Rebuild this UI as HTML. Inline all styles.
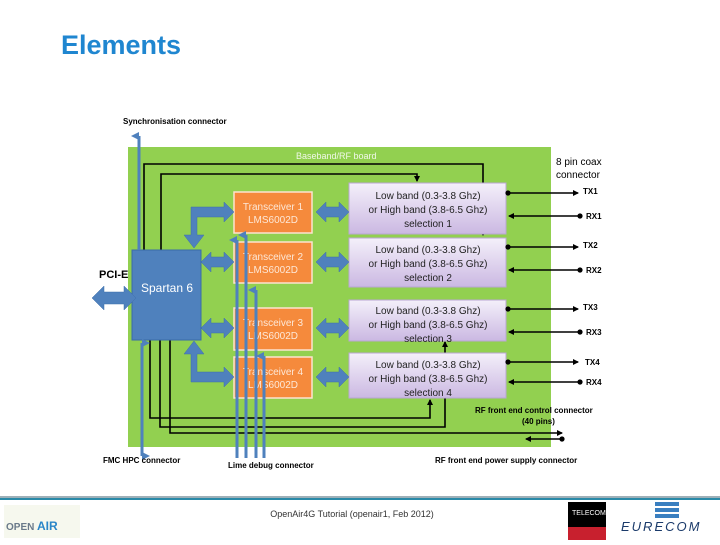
<!DOCTYPE html>
<html><head><meta charset="utf-8"><style>
body{margin:0;width:720px;height:540px;background:#fff;overflow:hidden;font-family:"Liberation Sans",sans-serif}
</style></head><body>
<svg width="720" height="540" viewBox="0 0 720 540" xmlns="http://www.w3.org/2000/svg" font-family="Liberation Sans, sans-serif">
<defs>
<linearGradient id="pg" x1="0" y1="0" x2="0" y2="1"><stop offset="0" stop-color="#f4f0fa"/><stop offset="1" stop-color="#cbb8e2"/></linearGradient>
<marker id="ah" markerWidth="6" markerHeight="6" refX="5" refY="3" orient="auto" markerUnits="userSpaceOnUse"><path d="M0,0 L6,3 L0,6 Z" fill="#000"/></marker>
<marker id="dt" markerWidth="6" markerHeight="6" refX="3" refY="3" markerUnits="userSpaceOnUse"><circle cx="3" cy="3" r="2.6" fill="#000"/></marker>
<marker id="bh" markerWidth="8" markerHeight="8" refX="4" refY="8" orient="auto" markerUnits="userSpaceOnUse"><path d="M0,8 L4,0 L8,8 Z" fill="#4f81bd"/></marker>
</defs>
<text x="61" y="54" font-size="27" font-weight="bold" fill="#1f86d0">Elements</text>

<rect x="128" y="147" width="423" height="300" fill="#92d050"/>
<text x="296" y="159" font-size="9" fill="#f0f8e8">Baseband/RF  board</text>

<g fill="none" stroke="#000" stroke-width="1.6">
<path d="M144 250 V164 H483 V235" marker-end="url(#ah)"/>
<path d="M161 250 V174 H417 V181" marker-end="url(#ah)"/>
<path d="M150 340 V418 H430 V400" marker-end="url(#ah)"/>
<path d="M160 340 V427 H445 V342" marker-end="url(#ah)"/>
<path d="M170 340 V433 H562" marker-end="url(#ah)"/>
<path d="M562 439 H526" marker-start="url(#dt)" marker-end="url(#ah)"/>
</g>

<g fill="#f58a3c" stroke="#fde3cf" stroke-width="1.5">
<rect x="234" y="192" width="78" height="41"/>
<rect x="234" y="242" width="78" height="41"/>
<rect x="234" y="308" width="78" height="42"/>
<rect x="234" y="357" width="78" height="41"/>
</g>
<g font-size="10" fill="#fde8d8" text-anchor="middle">
<text x="273" y="210">Transceiver 1</text><text x="273" y="223">LMS6002D</text>
<text x="273" y="260">Transceiver 2</text><text x="273" y="273">LMS6002D</text>
<text x="273" y="326">Transceiver 3</text><text x="273" y="339">LMS6002D</text>
<text x="273" y="375">Transceiver 4</text><text x="273" y="388">LMS6002D</text>
</g>

<g fill="url(#pg)" stroke="#b9a6d3" stroke-width="1">
<rect x="349" y="183" width="157" height="51"/>
<rect x="349" y="238" width="157" height="49"/>
<rect x="349" y="300" width="157" height="41"/>
<rect x="349" y="353" width="157" height="45"/>
</g>
<g font-size="10" fill="#222" text-anchor="middle">
<text x="428" y="199">Low band (0.3-3.8 Ghz)</text><text x="428" y="213">or High band (3.8-6.5 Ghz)</text><text x="428" y="227">selection 1</text>
<text x="428" y="253">Low band (0.3-3.8 Ghz)</text><text x="428" y="267">or High band (3.8-6.5 Ghz)</text><text x="428" y="281">selection 2</text>
<text x="428" y="314">Low band (0.3-3.8 Ghz)</text><text x="428" y="328">or High band (3.8-6.5 Ghz)</text><text x="428" y="342">selection 3</text>
<text x="428" y="368">Low band (0.3-3.8 Ghz)</text><text x="428" y="382">or High band (3.8-6.5 Ghz)</text><text x="428" y="396">selection 4</text>
</g>

<rect x="132" y="250" width="69" height="90" fill="#4f81bd" stroke="#3a6ca8"/>
<text x="141" y="292" font-size="12" fill="#fff">Spartan 6</text>

<g fill="#4f81bd" stroke="#3f70aa" stroke-width="0.5">
<path d="M201 262 l10 -10 v5 h13 v-5 l10 10 l-10 10 v-5 h-13 v5 z"/>
<path d="M201 328 l10 -10 v5 h13 v-5 l10 10 l-10 10 v-5 h-13 v5 z"/>
<path d="M316 212 l10 -10 v5 h13 v-5 l10 10 l-10 10 v-5 h-13 v5 z"/>
<path d="M316 262 l10 -10 v5 h13 v-5 l10 10 l-10 10 v-5 h-13 v5 z"/>
<path d="M316 328 l10 -10 v5 h13 v-5 l10 10 l-10 10 v-5 h-13 v5 z"/>
<path d="M316 377 l10 -10 v5 h13 v-5 l10 10 l-10 10 v-5 h-13 v5 z"/>
<path d="M92 298 l12 -12 v6 h20 v-6 l12 12 l-12 12 v-6 h-20 v6 z"/>
<path d="M234 212 l-10 -10 v5 h-33 v28 h-7 l10 13 l10 -13 h-7 v-18 h27 v5 z"/>
<path d="M234 377 l-10 -10 v5 h-27 v-18 h7 l-10 -13 l-10 13 h7 v28 h33 v5 z"/>
</g>
<g stroke="#4f81bd" stroke-width="3" fill="none">
<path d="M139 250 V136" marker-end="url(#bh)"/>
<path d="M142 343 V456" marker-start="url(#bh)" marker-end="url(#bh)"/>
<path d="M237 458 V240" marker-end="url(#bh)"/>
<path d="M246 458 V235" marker-end="url(#bh)"/>
<path d="M256 458 V290" marker-end="url(#bh)"/>
<path d="M264 458 V356" marker-end="url(#bh)"/>
</g>

<g stroke="#000" stroke-width="1.4" fill="none">
<path d="M508 193 H578" marker-start="url(#dt)" marker-end="url(#ah)"/>
<path d="M580 216 H509" marker-start="url(#dt)" marker-end="url(#ah)"/>
<path d="M508 247 H578" marker-start="url(#dt)" marker-end="url(#ah)"/>
<path d="M580 270 H509" marker-start="url(#dt)" marker-end="url(#ah)"/>
<path d="M508 309 H578" marker-start="url(#dt)" marker-end="url(#ah)"/>
<path d="M580 332 H509" marker-start="url(#dt)" marker-end="url(#ah)"/>
<path d="M508 362 H578" marker-start="url(#dt)" marker-end="url(#ah)"/>
<path d="M580 382 H509" marker-start="url(#dt)" marker-end="url(#ah)"/>
</g>
<g font-size="8" font-weight="bold" fill="#000">
<text x="583" y="194">TX1</text><text x="586" y="219">RX1</text>
<text x="583" y="248">TX2</text><text x="586" y="273">RX2</text>
<text x="583" y="310">TX3</text><text x="586" y="335">RX3</text>
<text x="585" y="365">TX4</text><text x="586" y="385">RX4</text>
<text x="123" y="124">Synchronisation connector</text>
<text x="103" y="463">FMC HPC connector</text>
<text x="228" y="468">Lime debug connector</text>
<text x="475" y="413">RF front end control  connector</text>
<text x="522" y="424">(40 pins)</text>
<text x="435" y="463">RF front end power supply  connector</text>
</g>
<text x="99" y="278" font-size="11" font-weight="bold">PCI-E</text>
<text x="556" y="165" font-size="10">8 pin coax</text>
<text x="556" y="178" font-size="10">connector</text>

<rect x="0" y="496" width="720" height="2" fill="#9fb0b8"/>
<rect x="0" y="498" width="720" height="2" fill="#2a8aa8"/>
<text x="352" y="517" font-size="9" fill="#333" text-anchor="middle">OpenAir4G Tutorial (openair1, Feb 2012)</text>
<rect x="4" y="505" width="76" height="33" fill="#f6f8ee"/>
<text x="6" y="530" font-size="10" font-weight="bold" fill="#6a7a8a">OPEN</text>
<text x="37" y="530" font-size="12" font-weight="bold" fill="#2a86c8">AIR</text>
<rect x="568" y="502" width="38" height="38" fill="#000"/>
<rect x="568" y="527" width="38" height="13" fill="#c8202e"/>
<text x="572" y="515" font-size="7" fill="#fff">TELECOM</text>
<rect x="655" y="502" width="24" height="4" fill="#3a7fc0"/>
<rect x="655" y="508" width="24" height="4" fill="#3a7fc0"/>
<rect x="655" y="514" width="24" height="4" fill="#3a7fc0"/>
<text x="621" y="531" font-size="13" fill="#1a3a6a" letter-spacing="2" font-style="italic">EURECOM</text>
</svg>
</body></html>
